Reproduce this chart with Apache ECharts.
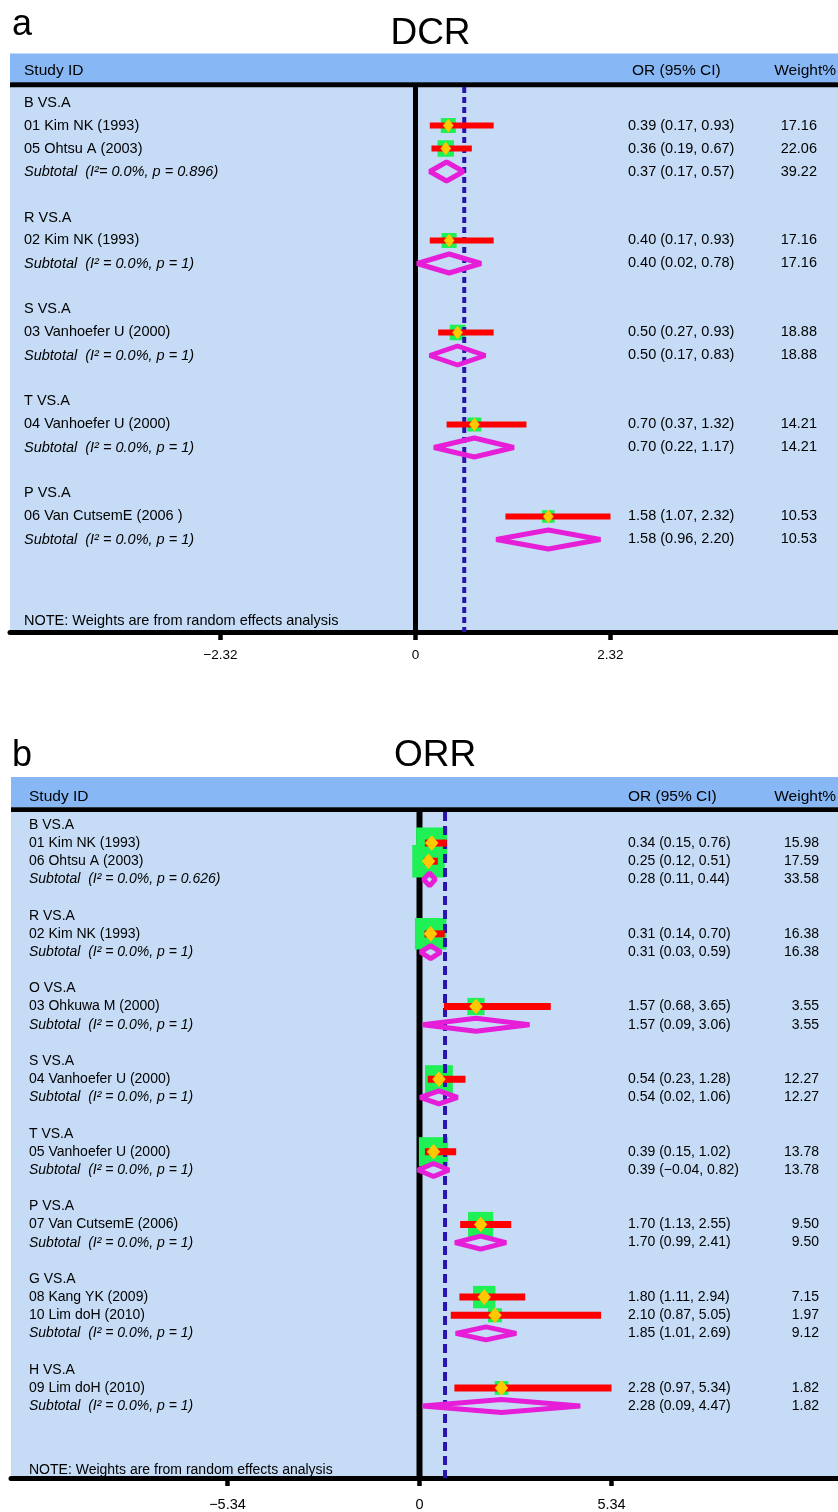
<!DOCTYPE html>
<html><head><meta charset="utf-8">
<script src="https://cdn.jsdelivr.net/npm/echarts@6.0.0/dist/echarts.min.js"></script>
<style>html,body{margin:0;padding:0;background:#fff}#chart{width:838px;height:1512px}</style>
</head><body><div id="chart"></div>
<script>
// ---------- Panel a : DCR ----------
const dcrLabels = ['B VS.A','01 Kim NK (1993)','05 Ohtsu A (2003)','Subtotal  (I\u00b2= 0.0%, p = 0.896)','',
  'R VS.A','02 Kim NK (1993)','Subtotal  (I\u00b2 = 0.0%, p = 1)','',
  'S VS.A','03 Vanhoefer U (2000)','Subtotal  (I\u00b2 = 0.0%, p = 1)','',
  'T VS.A','04 Vanhoefer U (2000)','Subtotal  (I\u00b2 = 0.0%, p = 1)','',
  'P VS.A','06 Van CutsemE (2006 )','Subtotal  (I\u00b2 = 0.0%, p = 1)'];
const dcrOR     = [null,0.39,0.36,0.37,null, null,0.40,0.40,null, null,0.50,0.50,null, null,0.70,0.70,null, null,1.58,1.58];
const dcrLower  = [null,0.17,0.19,0.17,null, null,0.17,0.02,null, null,0.27,0.17,null, null,0.37,0.22,null, null,1.07,0.96];
const dcrUpper  = [null,0.93,0.67,0.57,null, null,0.93,0.78,null, null,0.93,0.83,null, null,1.32,1.17,null, null,2.32,2.20];
const dcrWeight = [null,17.16,22.06,39.22,null, null,17.16,17.16,null, null,18.88,18.88,null, null,14.21,14.21,null, null,10.53,10.53];
const dcrOverall = 0.58;
const dcrTicks = [-2.32, 0, 2.32];

// ---------- Panel b : ORR ----------
const orrLabels = ['B VS.A','01 Kim NK (1993)','06 Ohtsu A (2003)','Subtotal  (I\u00b2 = 0.0%, p = 0.626)','',
  'R VS.A','02 Kim NK (1993)','Subtotal  (I\u00b2 = 0.0%, p = 1)','',
  'O VS.A','03 Ohkuwa M (2000)','Subtotal  (I\u00b2 = 0.0%, p = 1)','',
  'S VS.A','04 Vanhoefer U (2000)','Subtotal  (I\u00b2 = 0.0%, p = 1)','',
  'T VS.A','05 Vanhoefer U (2000)','Subtotal  (I\u00b2 = 0.0%, p = 1)','',
  'P VS.A','07 Van CutsemE (2006)','Subtotal  (I\u00b2 = 0.0%, p = 1)','',
  'G VS.A','08 Kang YK (2009)','10 Lim doH (2010)','Subtotal  (I\u00b2 = 0.0%, p = 1)','',
  'H VS.A','09 Lim doH (2010)','Subtotal  (I\u00b2 = 0.0%, p = 1)'];
const orrOR     = [null,0.34,0.25,0.28,null, null,0.31,0.31,null, null,1.57,1.57,null, null,0.54,0.54,null, null,0.39,0.39,null, null,1.70,1.70,null, null,1.80,2.10,1.85,null, null,2.28,2.28];
const orrLower  = [null,0.15,0.12,0.11,null, null,0.14,0.03,null, null,0.68,0.09,null, null,0.23,0.02,null, null,0.15,-0.04,null, null,1.13,0.99,null, null,1.11,0.87,1.01,null, null,0.97,0.09];
const orrUpper  = [null,0.76,0.51,0.44,null, null,0.70,0.59,null, null,3.65,3.06,null, null,1.28,1.06,null, null,1.02,0.82,null, null,2.55,2.41,null, null,2.94,5.05,2.69,null, null,5.34,4.47];
const orrWeight = [null,15.98,17.59,33.58,null, null,16.38,16.38,null, null,3.55,3.55,null, null,12.27,12.27,null, null,13.78,13.78,null, null,9.50,9.50,null, null,7.15,1.97,9.12,null, null,1.82,1.82];
const orrOverall = 0.71;
const orrTicks = [-5.34, 0, 5.34];

const noteText = 'NOTE: Weights are from random effects analysis';

// ---------- styles ----------
const FONT = '"Liberation Sans", Arial, Helvetica, sans-serif';
const C = {bg:'#C6DCF6', head:'#87B8F5', red:'#FF0000', green:'#1EF055', yellow:'#FFC800', mag:'#E61ED8', dash:'#2A14B0'};

const panels = [
  {labels:dcrLabels, or:dcrOR, lo:dcrLower, hi:dcrUpper, w:dcrWeight, overall:dcrOverall, ticks:dcrTicks,
   grid:{left:10, top:87, width:828, height:545}, xmin:-4.8245, xmax:5.0268, ymin:-0.674, ymax:23.022, noteRow:22.55,
   st:{labelX:24, orX:628, wX:817, font:14.5, boxA:3.6, boxB:2.75, ciW:6, dw:5.3, dh:6.7, subH:9.5, subW:5, dashArr:[6,4], zeroW:5, dashW:4, tickFont:13.5, tickMargin:16}},
  {labels:orrLabels, or:orrOR, lo:orrLower, hi:orrUpper, w:orrWeight, overall:orrOverall, ticks:orrTicks,
   grid:{left:11, top:812, width:827, height:671}, xmin:-11.36, xmax:11.638, ymin:-0.71, ymax:35.96, noteRow:35.52,
   st:{labelX:29, orX:628, wX:819, font:14, boxA:4.8, boxB:6.6, ciW:7, dw:6.7, dh:7.8, subH:6.5, subW:5, dashArr:[9,5], zeroW:6, dashW:4, tickFont:14.5, tickMargin:19}}
];

const fmt = v => (v < 0 ? '\u2212' : '') + Math.abs(v).toFixed(2);
const isSub = l => l && l.indexOf('Subtotal') === 0;

const grid = [], xAxis = [], yAxis = [], series = [];
panels.forEach((p, gi) => {
  grid.push(Object.assign({show:true, backgroundColor:C.bg, borderWidth:0}, p.grid));
  xAxis.push({type:'value', gridIndex:gi, min:p.xmin, max:p.xmax, splitLine:{show:false},
    axisLine:{show:true, onZero:false, lineStyle:{color:'#000', width:5}},
    axisTick:{show:true, customValues:p.ticks, length:8, lineStyle:{color:'#000', width:4.5}},
    axisLabel:{show:true, customValues:p.ticks, margin:p.st.tickMargin, color:'#000', fontSize:p.st.tickFont, fontFamily:FONT,
      formatter: v => Math.abs(v) < 1e-9 ? '0' : fmt(v)}});
  yAxis.push({type:'value', gridIndex:gi, inverse:true, min:p.ymin, max:p.ymax, show:false, splitLine:{show:false}});
  const st = p.st;
  const rows = p.labels.map((l, i) => [p.or[i] == null ? 0 : p.or[i], i]);
  const vline = (val, style, z) => ({type:'custom', xAxisIndex:gi, yAxisIndex:gi, z, silent:true, data:[[val, 0]],
    renderItem(params, api) {
      const cs = params.coordSys; const x = api.coord([api.value(0), 0])[0];
      return {type:'line', shape:{x1:x, y1:cs.y, x2:x, y2:cs.y + cs.height}, style};
    }});
  // zero line
  series.push(vline(0, {stroke:'#000', lineWidth:st.zeroW}, 1));
  // weight boxes
  series.push({type:'custom', xAxisIndex:gi, yAxisIndex:gi, z:2, silent:true, data:rows,
    renderItem(params, api) {
      const i = params.dataIndex, l = p.labels[i];
      if (p.or[i] == null || isSub(l)) return {type:'group', children:[]};
      const [cx, cy] = api.coord([p.or[i], i]);
      const s = st.boxA + st.boxB * Math.sqrt(p.w[i]);
      return {type:'rect', shape:{x:cx - s/2, y:cy - s/2, width:s, height:s}, style:{fill:C.green}};
    }});
  // overall dashed line
  series.push(vline(p.overall, {stroke:C.dash, lineWidth:st.dashW, lineDash:st.dashArr}, 3));
  // CI, point, subtotal diamonds
  series.push({type:'custom', xAxisIndex:gi, yAxisIndex:gi, z:4, silent:true, data:rows,
    renderItem(params, api) {
      const i = params.dataIndex, l = p.labels[i];
      if (p.or[i] == null) return {type:'group', children:[]};
      const [cx, cy] = api.coord([p.or[i], i]);
      const xl = api.coord([p.lo[i], i])[0], xh = api.coord([p.hi[i], i])[0];
      if (isSub(l)) {
        return {type:'polygon', shape:{points:[[xl, cy], [cx, cy - st.subH], [xh, cy], [cx, cy + st.subH]]},
          style:{fill:null, stroke:C.mag, lineWidth:st.subW, lineJoin:'bevel'}};
      }
      return {type:'group', children:[
        {type:'line', shape:{x1:xl, y1:cy, x2:xh, y2:cy}, style:{stroke:C.red, lineWidth:st.ciW}},
        {type:'polygon', shape:{points:[[cx, cy - st.dh], [cx + st.dw, cy], [cx, cy + st.dh], [cx - st.dw, cy]]}, style:{fill:C.yellow}}
      ]};
    }});
  // text columns
  series.push({type:'custom', xAxisIndex:gi, yAxisIndex:gi, z:5, silent:true, data:rows,
    renderItem(params, api) {
      const i = params.dataIndex, l = p.labels[i];
      const ch = [];
      if (!l) return {type:'group', children:ch};
      const y = api.coord([0, i])[1];
      const f = st.font + 'px ' + FONT;
      ch.push({type:'text', x:st.labelX, y, style:{text:l, fill:'#000', font:(isSub(l) ? 'italic ' : '') + f, align:'left', verticalAlign:'middle'}});
      if (p.or[i] != null) {
        ch.push({type:'text', x:st.orX, y, style:{text:fmt(p.or[i]) + ' (' + fmt(p.lo[i]) + ', ' + fmt(p.hi[i]) + ')', fill:'#000', font:f, align:'left', verticalAlign:'middle'}});
        ch.push({type:'text', x:st.wX, y, style:{text:p.w[i].toFixed(2), fill:'#000', font:f, align:'right', verticalAlign:'middle'}});
      }
      return {type:'group', children:ch};
    }});
  // note
  series.push({type:'custom', xAxisIndex:gi, yAxisIndex:gi, z:5, silent:true, data:[[0, p.noteRow]],
    renderItem(params, api) {
      const y = api.coord([0, api.value(1)])[1];
      return {type:'text', x:st.labelX, y, style:{text:noteText, fill:'#000', font:st.font + 'px ' + FONT, align:'left', verticalAlign:'middle'}};
    }});
});

const H = '15.5px ' + FONT;
const graphic = [
  {type:'text', left:12, top:7, style:{text:'a', font:'36px ' + FONT, fill:'#000'}},
  {type:'text', x:430.5, y:33.5, style:{text:'DCR', font:'37px ' + FONT, fill:'#000', align:'center', verticalAlign:'middle'}},
  {type:'rect', shape:{x:10, y:53.5, width:828, height:29}, style:{fill:C.head}},
  {type:'rect', shape:{x:10, y:82.3, width:828, height:5}, style:{fill:'#000'}},
  {type:'text', x:24, y:71, style:{text:'Study ID', font:H, fill:'#000', verticalAlign:'middle'}},
  {type:'text', x:632, y:71, style:{text:'OR (95% CI)', font:H, fill:'#000', verticalAlign:'middle'}},
  {type:'text', x:836, y:71, style:{text:'Weight%', font:H, fill:'#000', align:'right', verticalAlign:'middle'}},

  {type:'text', left:12, top:738, style:{text:'b', font:'36px ' + FONT, fill:'#000'}},
  {type:'text', x:435, y:756, style:{text:'ORR', font:'37px ' + FONT, fill:'#000', align:'center', verticalAlign:'middle'}},
  {type:'rect', shape:{x:11, y:777, width:827, height:30.5}, style:{fill:C.head}},
  {type:'rect', shape:{x:11, y:807.3, width:827, height:4.7}, style:{fill:'#000'}},
  {type:'text', x:29, y:796.5, style:{text:'Study ID', font:H, fill:'#000', verticalAlign:'middle'}},
  {type:'text', x:628, y:796.5, style:{text:'OR (95% CI)', font:H, fill:'#000', verticalAlign:'middle'}},
  {type:'text', x:836, y:796.5, style:{text:'Weight%', font:H, fill:'#000', align:'right', verticalAlign:'middle'}}
];

const chart = echarts.init(document.getElementById('chart'), null, {renderer:'canvas'});
chart.setOption({animation:false, backgroundColor:'#fff', grid, xAxis, yAxis, series, graphic});
</script>
</body></html>
